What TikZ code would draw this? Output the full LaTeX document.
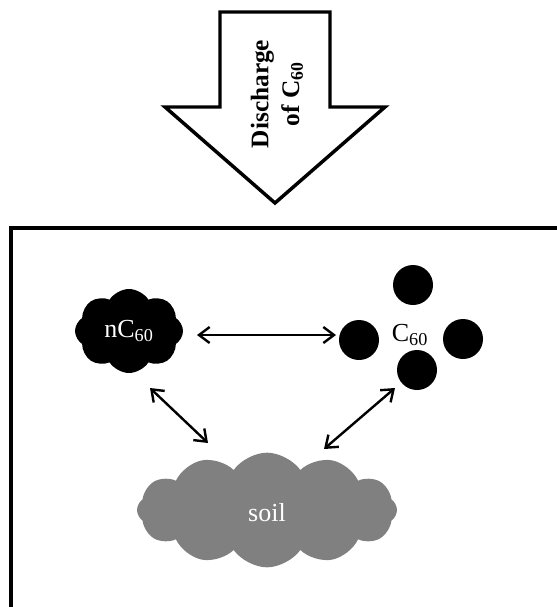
\documentclass[tikz,border=0pt]{standalone}
\usepackage{fontspec}
\setmainfont{Liberation Serif}
\usetikzlibrary{arrows.meta, positioning, shapes.symbols}

\tikzset{
  dbl/.style={line width=1.8pt, {Straight Barb[length=8pt,width=12pt]}-{Straight Barb[length=8pt,width=12pt]}},
  particle/.style={circle, fill=black, minimum size=30pt, inner sep=0pt},
  lbl/.style={font=\fontsize{19.5}{22}\selectfont, inner sep=0.75pt}
}

\begin{document}
\begin{tikzpicture}[x=0.75pt,y=0.75pt,yscale=-1,xscale=1]
\useasboundingbox (0,0) rectangle (557,607);

%Block Arrow [discharge]
\draw [line width=2.6pt, line join=miter] (220,12) -- (330,12) -- (330,107) -- (385,107) -- (275,203) -- (165,107) -- (220,107) -- cycle ;
% Text Node
\node (discharge) [rotate=90, align=center, inner sep=0.75pt, font=\bfseries\fontsize{19}{23}\selectfont] at (277,94) {Discharge\\of C\textsubscript{60}};

%Frame
\draw [line width=3pt] (11,612) -- (11,228) -- (562,228) ;

%Clouds
\node (ncloud) [cloud, cloud puffs=8, cloud puff arc=115, aspect=1.3, fill=black, minimum width=81pt, minimum height=63pt, inner sep=0pt] at (129,331) {};
\node (soil) [cloud, cloud puffs=12, cloud puff arc=110, aspect=2.4, fill={rgb, 255:red, 128; green, 128; blue, 128}, minimum width=195pt, minimum height=86pt, inner sep=0pt] at (267,510) {};

%Particles
\node (ptop) [particle] at (413,285) {};
\node (pleft) [particle] at (359,340) {};
\node (pright) [particle] at (463,339) {};
\node (pbot) [particle] at (417,370) {};

% Text Node
\node (nctext) [lbl, text=white] at (ncloud) {nC\textsubscript{60}};
\node (ctext) [lbl] at (410,335) {C\textsubscript{60}};
\node (soiltext) [lbl, text=white] at (267,513) {soil};

%Arrow ends
\coordinate (ncE) at (197,335);
\coordinate (pW) at (336,335);
\coordinate (ncS) at (150,388);
\coordinate (soilNW) at (208,443);
\coordinate (pS) at (395,388);
\coordinate (soilNE) at (324,449);

%Straight Lines
\draw [dbl] (ncE) -- (pW) ;
\draw [dbl] (ncS) -- (soilNW) ;
\draw [dbl] (pS) -- (soilNE) ;

\end{tikzpicture}
\end{document}
